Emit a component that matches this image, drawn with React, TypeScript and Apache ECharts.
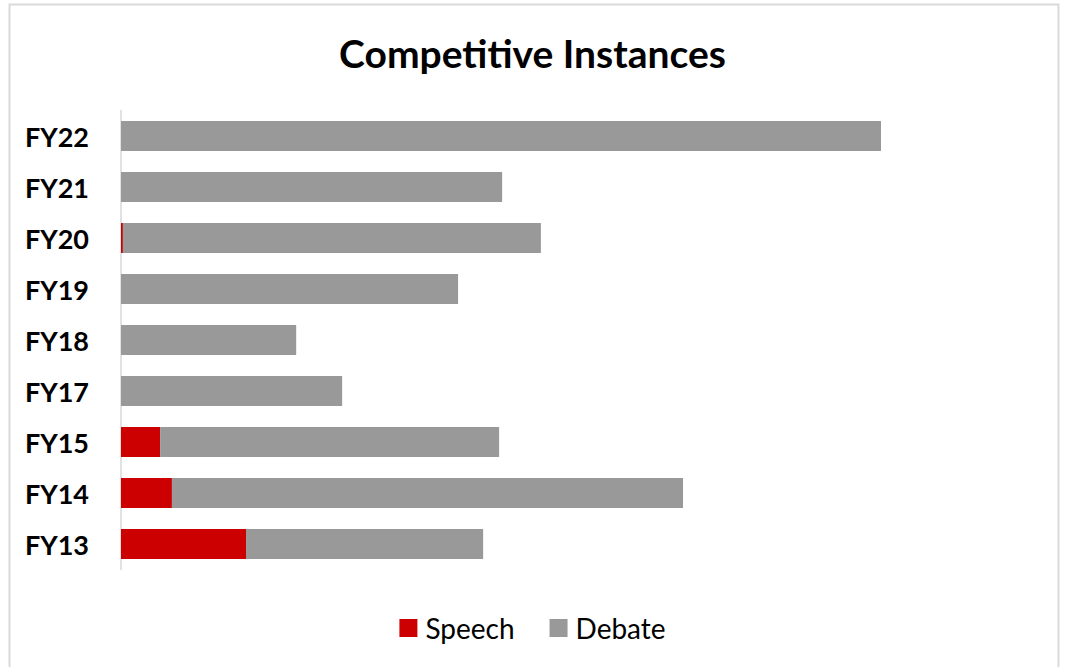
import React, { useEffect, useRef } from "react";
import * as echarts from "echarts";

const categories = ["FY13", "FY14", "FY15", "FY17", "FY18", "FY19", "FY20", "FY21", "FY22"];
const speech = [329, 134, 103, 0, 0, 0, 5, 0, 0];
const debate = [624, 1345, 892, 582, 461, 887, 1100, 1003, 2000];

const FONT = "Lato, 'Open Sans', sans-serif";

export default function App() {
  const ref = useRef<HTMLDivElement>(null);
  useEffect(() => {
    if (!ref.current) return;
    const chart = echarts.init(ref.current, null, { renderer: "svg" });
    chart.setOption({
      animation: false,
      backgroundColor: "#ffffff",
      title: {
        text: "Competitive Instances",
        left: "center",
        top: 28,
        textStyle: { fontFamily: FONT, fontWeight: "bold", fontSize: 39, color: "#000000" },
      },
      graphic: [
        {
          type: "rect",
          shape: { x: 9.5, y: 4.5, width: 1049, height: 720 },
          style: { fill: "none", stroke: "#d9d9d9", lineWidth: 2 },
          silent: true,
        },
      ],
      legend: {
        top: 609,
        left: "center",
        icon: "rect",
        itemWidth: 18,
        itemHeight: 18,
        itemGap: 35,
        textStyle: { fontFamily: FONT, fontSize: 28, color: "#000000", padding: [0, 0, 0, 3] },
        data: ["Speech", "Debate"],
      },
      grid: { left: 121, right: 32, top: 110.5, bottom: 97.5, containLabel: false },
      xAxis: {
        type: "value",
        min: 0,
        max: 2400,
        show: false,
        splitLine: { show: false },
      },
      yAxis: {
        type: "category",
        data: categories,
        axisLine: { show: true, lineStyle: { color: "#d9d9d9", width: 1.5 } },
        axisTick: { show: false },
        axisLabel: {
          margin: 32,
          fontFamily: FONT,
          fontWeight: "bold",
          fontSize: 27,
          color: "#000000",
        },
      },
      series: [
        {
          name: "Speech",
          type: "bar",
          stack: "total",
          barWidth: 30,
          data: speech,
          itemStyle: { color: "#cc0000" },
        },
        {
          name: "Debate",
          type: "bar",
          stack: "total",
          barWidth: 30,
          data: debate,
          itemStyle: { color: "#999999" },
        },
      ],
    });
    return () => chart.dispose();
  }, []);
  return (
    <div
      ref={ref}
      style={{ position: "absolute", left: 0, top: 0, width: 1065, height: 667 }}
    />
  );
}
